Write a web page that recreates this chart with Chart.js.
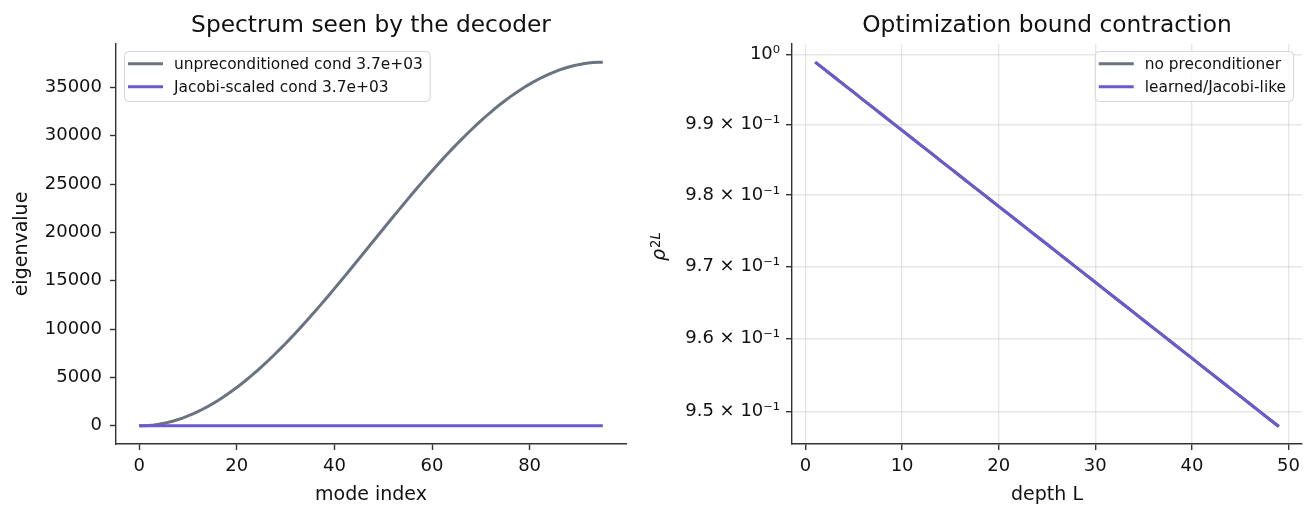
<!DOCTYPE html>
<html>
<head>
<meta charset="utf-8">
<script src="https://cdn.jsdelivr.net/npm/chart.js@4.4.1/dist/chart.umd.min.js"></script>
<style>
  body { margin: 0; background: #fff; width: 1315px; height: 518px; position: relative; overflow: hidden; }
  canvas { position: absolute; top: 0; }
</style>
</head>
<body>
<canvas id="spectrumChart" width="640" height="518" style="left:0px"></canvas>
<canvas id="boundChart" width="675" height="518" style="left:640px"></canvas>
<script>
// eigenvalues per mode
const unprecEig = [
  0, 10, 41, 92, 164, 256, 369, 501, 654, 827, 1019, 1230, 1461, 1711, 1979, 2266,
  2571, 2893, 3233, 3591, 3964, 4354, 4760, 5181, 5617, 6067, 6531, 7009, 7500, 8003, 8517, 9043,
  9580, 10127, 10683, 11248, 11822, 12403, 12991, 13585, 14185, 14790, 15400, 16013, 16629, 17248, 17868, 18489,
  19111, 19732, 20353, 20971, 21587, 22201, 22810, 23415, 24015, 24610, 25198, 25779, 26352, 26917, 27473, 28020,
  28557, 29083, 29597, 30100, 30591, 31069, 31533, 31983, 32419, 32840, 33246, 33636, 34010, 34367, 34707, 35029,
  35334, 35621, 35889, 36139, 36370, 36581, 36774, 36946, 37099, 37231, 37344, 37436, 37508, 37559, 37590, 37600
];
const jacobiEig = [
  0.00, 0.00, 0.00, 0.01, 0.02, 0.03, 0.04, 0.05, 0.07, 0.09, 0.11, 0.13, 0.16, 0.18, 0.21, 0.24,
  0.27, 0.31, 0.34, 0.38, 0.42, 0.46, 0.51, 0.55, 0.60, 0.65, 0.69, 0.75, 0.80, 0.85, 0.91, 0.96,
  1.02, 1.08, 1.14, 1.20, 1.26, 1.32, 1.38, 1.45, 1.51, 1.57, 1.64, 1.70, 1.77, 1.83, 1.90, 1.97,
  2.03, 2.10, 2.17, 2.23, 2.30, 2.36, 2.43, 2.49, 2.55, 2.62, 2.68, 2.74, 2.80, 2.86, 2.92, 2.98,
  3.04, 3.09, 3.15, 3.20, 3.25, 3.31, 3.35, 3.40, 3.45, 3.49, 3.54, 3.58, 3.62, 3.66, 3.69, 3.73,
  3.76, 3.79, 3.82, 3.84, 3.87, 3.89, 3.91, 3.93, 3.95, 3.96, 3.97, 3.98, 3.99, 4.00, 4.00, 4.00
];
const modeIndex = unprecEig.map((_, i) => i);

// rho^(2L) for depth L = 1..49 (both curves sit on top of each other)
const boundNoPrec = [
  0.99891, 0.99782, 0.99673, 0.99564, 0.99456, 0.99347, 0.99239, 0.99131, 0.99022, 0.98914,
  0.98806, 0.98699, 0.98591, 0.98483, 0.98376, 0.98269, 0.98161, 0.98054, 0.97947, 0.97840,
  0.97734, 0.97627, 0.97521, 0.97414, 0.97308, 0.97202, 0.97096, 0.96990, 0.96884, 0.96778,
  0.96673, 0.96567, 0.96462, 0.96357, 0.96251, 0.96146, 0.96042, 0.95937, 0.95832, 0.95728,
  0.95623, 0.95519, 0.95415, 0.95310, 0.95207, 0.95103, 0.94999, 0.94895, 0.94792
];
const boundLearned = [
  0.99891, 0.99782, 0.99673, 0.99564, 0.99456, 0.99347, 0.99239, 0.99131, 0.99022, 0.98914,
  0.98806, 0.98699, 0.98591, 0.98483, 0.98376, 0.98269, 0.98161, 0.98054, 0.97947, 0.97840,
  0.97734, 0.97627, 0.97521, 0.97414, 0.97308, 0.97202, 0.97096, 0.96990, 0.96884, 0.96778,
  0.96673, 0.96567, 0.96462, 0.96357, 0.96251, 0.96146, 0.96042, 0.95937, 0.95832, 0.95728,
  0.95623, 0.95519, 0.95415, 0.95310, 0.95207, 0.95103, 0.94999, 0.94895, 0.94792
];
const depthL = boundNoPrec.map((_, i) => i + 1);

// ticks
const modeTicks = [0, 20, 40, 60, 80];
const eigTicks = [0, 5000, 10000, 15000, 20000, 25000, 30000, 35000];
const depthTicks = [0, 10, 20, 30, 40, 50];
const rhoTicks = [0.95, 0.96, 0.97, 0.98, 0.99, 1.0];
const rhoTickLabels = ['9.5 × 10⁻¹', '9.6 × 10⁻¹', '9.7 × 10⁻¹', '9.8 × 10⁻¹', '9.9 × 10⁻¹', '10⁰'];

const GRAY = '#6b7280';
const PURPLE = '#6a5acd';
const FONT = '"DejaVu Sans", sans-serif';
const AXIS = '#333333';

Chart.defaults.font.family = FONT;
Chart.defaults.color = '#111';

function pts(xs, ys) {
  return xs.map((x, i) => ({ x: x, y: ys[i] }));
}

// title, legend box and the rho label are drawn by hand
const decor = {
  id: 'decor',
  afterDraw(chart, args, opts) {
    const ctx = chart.ctx;
    const area = chart.chartArea;
    ctx.save();
    ctx.fillStyle = '#111';
    ctx.font = '23.3px ' + FONT;
    ctx.textAlign = 'center';
    ctx.textBaseline = 'alphabetic';
    ctx.fillText(opts.title, (area.left + area.right) / 2, 32);

    // legend
    ctx.font = '15.4px ' + FONT;
    const items = opts.legend;
    const tw = Math.max(...items.map(it => ctx.measureText(it.label).width));
    const w = 4 + 35 + 11 + tw + 7, h = 50;
    const x0 = opts.legendLeft ? area.left + 8 : area.right - 9 - w;
    const y0 = area.top + 7;
    ctx.beginPath();
    ctx.roundRect(x0 + 0.5, y0 + 0.5, w, h, 4);
    ctx.fillStyle = 'rgba(255,255,255,0.8)';
    ctx.fill();
    ctx.strokeStyle = '#d4d4d4';
    ctx.lineWidth = 1;
    ctx.stroke();
    items.forEach((it, i) => {
      const y = y0 + 12.7 + i * 23;
      ctx.beginPath();
      ctx.moveTo(x0 + 4, y);
      ctx.lineTo(x0 + 39, y);
      ctx.strokeStyle = it.color;
      ctx.lineWidth = 3;
      ctx.stroke();
      ctx.fillStyle = '#111';
      ctx.textAlign = 'left';
      ctx.textBaseline = 'middle';
      ctx.fillText(it.label, x0 + 50, y + 1);
    });

    if (opts.rho) {
      ctx.translate(22, 247);
      ctx.rotate(-Math.PI / 2);
      ctx.textAlign = 'left';
      ctx.textBaseline = 'alphabetic';
      ctx.fillStyle = '#111';
      ctx.font = 'italic 19px ' + FONT;
      ctx.fillText('ρ', -14, 3);
      const rw = ctx.measureText('ρ').width;
      ctx.font = '13.3px ' + FONT;
      ctx.fillText('2', -14 + rw + 1, -2.5);
      const tw2 = ctx.measureText('2').width;
      ctx.font = 'italic 13.3px ' + FONT;
      ctx.fillText('L', -14 + rw + 1 + tw2, -2.5);
    }
    ctx.restore();
  }
};

function fixTicks(list) {
  return function (scale) { scale.ticks = list.map(v => ({ value: v })); };
}

const tickFont = { size: 18, family: FONT };
const labelFont = { size: 19, family: FONT };

// 1. Spectrum
new Chart(document.getElementById('spectrumChart'), {
  type: 'line',
  data: {
    datasets: [{
      label: 'unpreconditioned cond 3.7e+03',
      data: pts(modeIndex, unprecEig),
      borderColor: GRAY,
      borderWidth: 3,
      pointRadius: 0,
      order: 2
    }, {
      label: 'Jacobi-scaled cond 3.7e+03',
      data: pts(modeIndex, jacobiEig),
      borderColor: PURPLE,
      borderWidth: 3,
      pointRadius: 0,
      order: 1
    }]
  },
  options: {
    responsive: false,
    animation: false,
    layout: { padding: { left: 0, top: 44, right: 14, bottom: 0 } },
    plugins: {
      legend: { display: false },
      tooltip: { enabled: false },
      decor: {
        title: 'Spectrum seen by the decoder',
        legendLeft: true,
        legend: [
          { label: 'unpreconditioned cond 3.7e+03', color: GRAY },
          { label: 'Jacobi-scaled cond 3.7e+03', color: PURPLE }
        ]
      }
    },
    scales: {
      x: {
        type: 'linear',
        min: -4.75,
        max: 99.75,
        afterBuildTicks: fixTicks(modeTicks),
        afterFit(s) { s.height = 74; },
        grid: { drawOnChartArea: false, tickLength: 6, tickColor: AXIS, tickWidth: 1.4 },
        border: { color: AXIS, width: 1.4 },
        ticks: { font: tickFont, padding: 6, maxRotation: 0 },
        title: { display: true, text: 'mode index', font: labelFont, padding: { top: 0, bottom: 12 } }
      },
      y: {
        type: 'linear',
        min: -1880,
        max: 39480,
        afterBuildTicks: fixTicks(eigTicks),
        afterFit(s) { s.width = 116; },
        grid: { drawOnChartArea: false, tickLength: 6, tickColor: AXIS, tickWidth: 1.4 },
        border: { color: AXIS, width: 1.4 },
        ticks: { font: tickFont, padding: 8, callback: v => String(v) },
        title: { display: true, text: 'eigenvalue', font: labelFont, padding: { top: 11, bottom: 0 } }
      }
    }
  },
  plugins: [decor]
});

// 2. Bound contraction
new Chart(document.getElementById('boundChart'), {
  type: 'line',
  data: {
    datasets: [{
      label: 'no preconditioner',
      data: pts(depthL, boundNoPrec),
      borderColor: GRAY,
      borderWidth: 3,
      pointRadius: 0,
      order: 2
    }, {
      label: 'learned/Jacobi-like',
      data: pts(depthL, boundLearned),
      borderColor: PURPLE,
      borderWidth: 3,
      pointRadius: 0,
      order: 1
    }]
  },
  options: {
    responsive: false,
    animation: false,
    layout: { padding: { left: 0, top: 44, right: 13, bottom: 0 } },
    plugins: {
      legend: { display: false },
      tooltip: { enabled: false },
      decor: {
        title: 'Optimization bound contraction',
        legendLeft: false,
        rho: true,
        legend: [
          { label: 'no preconditioner', color: GRAY },
          { label: 'learned/Jacobi-like', color: PURPLE }
        ]
      }
    },
    scales: {
      x: {
        type: 'linear',
        min: -1.4,
        max: 51.4,
        afterBuildTicks: fixTicks(depthTicks),
        afterFit(s) { s.height = 74; },
        grid: { color: 'rgba(176,176,176,0.3)', lineWidth: 1.4, tickLength: 6, tickColor: AXIS, tickWidth: 1.4 },
        border: { color: AXIS, width: 1.4 },
        ticks: { font: tickFont, padding: 6, maxRotation: 0 },
        title: { display: true, text: 'depth L', font: labelFont, padding: { top: 0, bottom: 12 } }
      },
      y: {
        type: 'logarithmic',
        min: 0.94554,
        max: 1.00151,
        afterBuildTicks: fixTicks(rhoTicks),
        afterFit(s) { s.width = 152; },
        grid: { color: 'rgba(176,176,176,0.3)', lineWidth: 1.4, tickLength: 6, tickColor: AXIS, tickWidth: 1.4 },
        border: { color: AXIS, width: 1.4 },
        ticks: {
          font: tickFont,
          padding: 6,
          callback: (v) => {
            const i = rhoTicks.findIndex(t => Math.abs(t - v) < 1e-6);
            return i >= 0 ? rhoTickLabels[i] : '';
          }
        }
      }
    }
  },
  plugins: [decor]
});
</script>
</body>
</html>
